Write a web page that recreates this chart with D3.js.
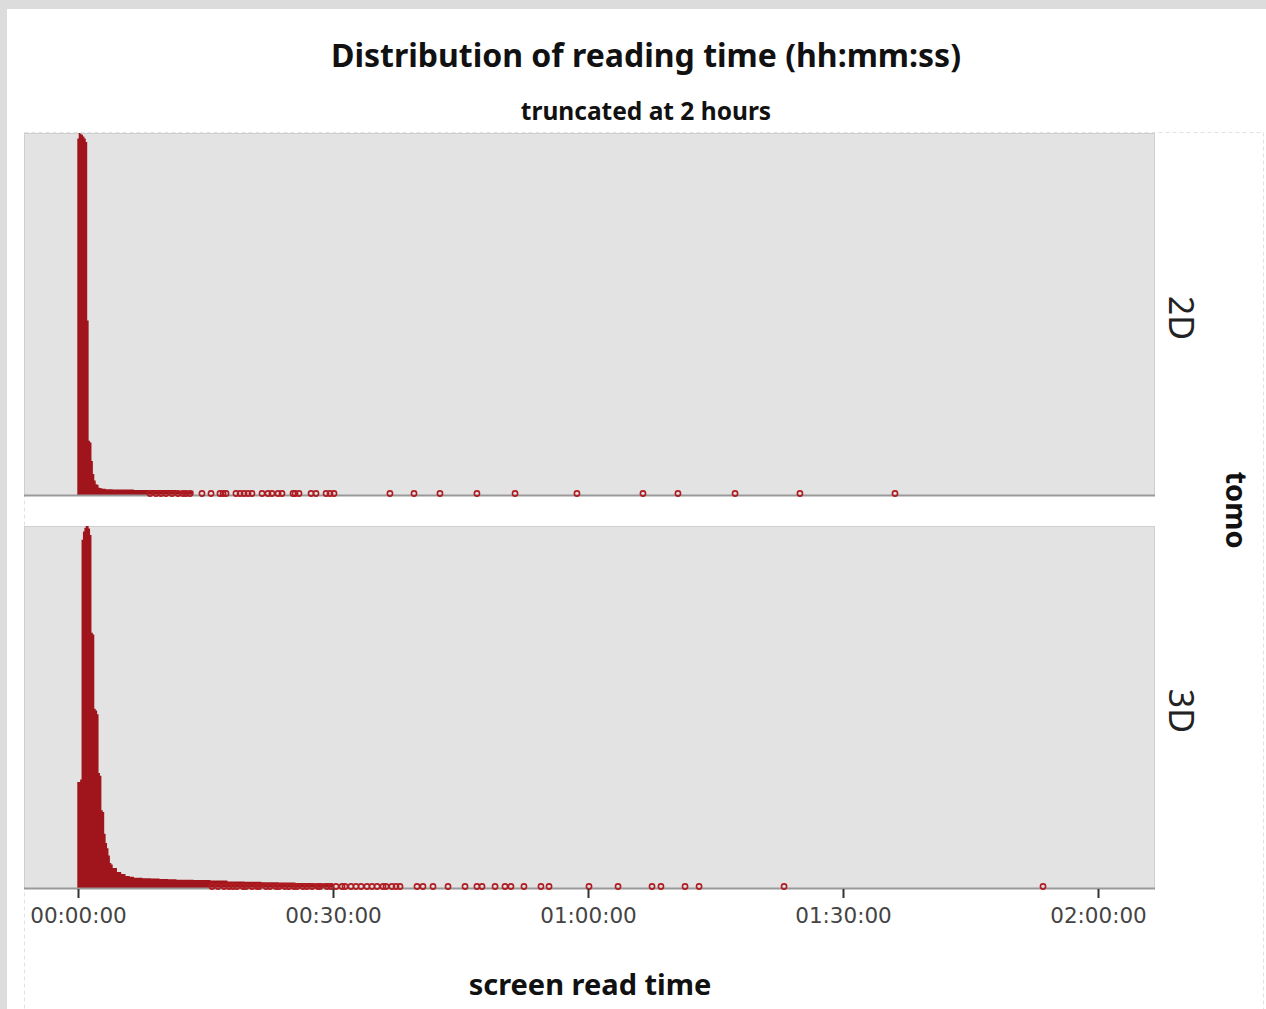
<!DOCTYPE html>
<head>
	<meta charset="utf-8" />
	<style>
		body {
			margin: 0;
			background-color: #dcdcdc;
			overflow: hidden;
		}
		svg {
			display: block;
		}
	</style>
</head>

<body>
	<div id="chart-area"></div>

	<script src="https://cdnjs.cloudflare.com/ajax/libs/d3/7.8.5/d3.min.js"></script>
	<script>
		// panels (facet rows)
		var facets = ['2D', '3D'];

		// bin edges in seconds (fine near zero, wider in the tail)
		var binEdges = [
			-5, 5, 15, 25, 35, 45, 55, 65, 75, 85, 95, 105, 115, 125, 135, 145, 155,
			165, 175, 185, 195, 205, 215, 225, 235, 245, 275, 305, 335, 365, 395, 455,
			515, 575, 635, 695, 815, 935, 1055, 1175, 1295, 1415, 1535, 1655, 1800,
		];

		// counts per bin (relative, peak = 1000)
		var counts2D = [
			985, 1000, 998, 995, 990, 985, 975, 482, 150, 145, 94, 58, 40, 30, 28,
			20, 19, 18, 17, 17, 16, 16, 16, 16, 16, 15, 15, 15, 15, 15, 14, 14, 14,
			14, 14, 12, 0, 0, 0, 0, 0, 0, 0, 0,
		];
		var counts3D = [
			293, 293, 300, 962, 985, 995, 1000, 1000, 993, 975, 705, 700, 495, 490,
			480, 318, 310, 215, 210, 150, 124, 110, 90, 69, 65, 55, 44, 39, 33, 31,
			28, 27, 26, 25, 24, 23, 22, 21, 18, 17, 16, 15, 14, 13,
		];

		// single long reads shown as points (seconds)
		var points2D = [
			508, 551, 586, 621, 664, 706, 741, 762, 791, 875, 939, 1002, 1024, 1045,
			1115, 1144, 1172, 1200, 1228, 1299, 1341, 1369, 1412, 1440, 1518, 1532,
			1560, 1645, 1680, 1751, 1779, 1807, 2202, 2372, 2555, 2816, 3085, 3522,
			3988, 4235, 4638, 5096, 5767,
		];
		var points3D = [
			946, 988, 1031, 1066, 1094, 1122, 1165, 1186, 1228, 1264, 1278, 1327,
			1355, 1398, 1419, 1461, 1489, 1525, 1546, 1588, 1616, 1652, 1694, 1708,
			1758, 1786, 1821, 1864, 1885, 1927, 1962, 1998, 2040, 2075, 2111, 2153,
			2174, 2216, 2245, 2273, 2393, 2435, 2506, 2612, 2732, 2816, 2852, 2944,
			3014, 3056, 3148, 3268, 3325, 3607, 3812, 4052, 4115, 4285, 4384, 4984,
			6812,
		];

		var tickValues = [0, 1800, 3600, 5400, 7200];

		var W = 1266,
			H = 1009;
		var panel = { left: 24, right: 1154, height: 362 };
		var panelTops = [133, 526];
		var barColor = '#a0151b';

		var x = d3
			.scaleLinear()
			.domain([0, 7200])
			.range([panel.left + 54, panel.right - 56]);

		var y = d3.scaleLinear().domain([0, 1000]).range([panel.height, 0]);

		var fmt = s => {
			var p = n => String(n).padStart(2, '0');
			return p(Math.floor(s / 3600)) + ':' + p(Math.floor((s % 3600) / 60)) + ':' + p(s % 60);
		};

		var svg = d3
			.select('#chart-area')
			.append('svg')
			.attr('width', W)
			.attr('height', H);

		svg.append('rect')
			.attr('x', 7)
			.attr('y', 9)
			.attr('width', W - 7)
			.attr('height', H - 9)
			.attr('fill', '#fff');

		// faint dashed frame round the plot
		svg.append('rect')
			.attr('x', 24.5)
			.attr('y', 132.5)
			.attr('width', 1239)
			.attr('height', 900)
			.attr('fill', 'none')
			.attr('stroke', '#e2e2e2')
			.attr('stroke-dasharray', '4,3');

		svg.append('text')
			.attr('x', 646)
			.attr('y', 67)
			.attr('text-anchor', 'middle')
			.style('font', 'bold 32px "Noto Sans", sans-serif')
			.attr('fill', '#111')
			.text('Distribution of reading time (hh:mm:ss)');

		svg.append('text')
			.attr('x', 646)
			.attr('y', 120)
			.attr('text-anchor', 'middle')
			.style('font', 'bold 24.5px "Noto Sans", sans-serif')
			.attr('fill', '#111')
			.text('truncated at 2 hours');

		var area = d3
			.area()
			.x(d => x(d.x))
			.y0(y(0))
			.y1(d => y(d.c))
			.curve(d3.curveStepAfter);

		var series = [
			{ counts: counts2D, points: points2D },
			{ counts: counts3D, points: points3D },
		];

		facets.forEach((name, i) => {
			var g = svg
				.append('g')
				.attr('transform', `translate(0,${panelTops[i]})`);

			g.append('rect')
				.attr('x', panel.left + 0.5)
				.attr('y', 0.5)
				.attr('width', panel.right - panel.left)
				.attr('height', panel.height)
				.attr('fill', '#e3e3e3')
				.attr('stroke', '#cfcfcf');

			var bins = series[i].counts.map((c, j) => ({ x: binEdges[j], c: c }));
			bins.push({ x: binEdges[binEdges.length - 1], c: 0 });

			g.append('path')
				.datum(bins)
				.attr('d', area)
				.attr('fill', barColor);

			// baseline
			g.append('line')
				.attr('x1', panel.left)
				.attr('x2', panel.right + 1)
				.attr('y1', y(0) + 0.5)
				.attr('y2', y(0) + 0.5)
				.attr('stroke', '#999')
				.attr('stroke-width', 2);

			g.selectAll('circle')
				.data(series[i].points)
				.join('circle')
				.attr('cx', d => x(d))
				.attr('cy', y(0) - 1.5)
				.attr('r', 2.6)
				.attr('fill', 'none')
				.attr('stroke', '#b01c22')
				.attr('stroke-width', 1.6);

			g.append('text')
				.attr('transform', `translate(1181,${panel.height / 2 + 4}) rotate(90)`)
				.attr('text-anchor', 'middle')
				.attr('dy', '0.35em')
				.style('font', '34px "Noto Sans", sans-serif')
				.attr('fill', '#222')
				.text(name);
		});

		// x axis under the lower panel
		var axis = d3
			.axisBottom(x)
			.tickValues(tickValues)
			.tickFormat(fmt)
			.tickSize(9)
			.tickPadding(10);

		var ax = svg
			.append('g')
			.attr('transform', `translate(0,${panelTops[1] + panel.height + 1})`)
			.call(axis);

		ax.select('.domain').remove();
		ax.selectAll('.tick line').attr('stroke', '#333').attr('stroke-width', 2);
		ax.selectAll('.tick text')
			.attr('fill', '#444')
			.style('font', '21.5px "DejaVu Sans", sans-serif');

		svg.append('text')
			.attr('x', 590)
			.attr('y', 995)
			.attr('text-anchor', 'middle')
			.style('font', 'bold 29px "Noto Sans", sans-serif')
			.attr('fill', '#111')
			.text('screen read time');

		svg.append('text')
			.attr('transform', 'translate(1236,510) rotate(90)')
			.attr('text-anchor', 'middle')
			.attr('dy', '0.35em')
			.style('font', 'bold 29px "Noto Sans", sans-serif')
			.attr('fill', '#111')
			.text('tomo');
	</script>
</body>
